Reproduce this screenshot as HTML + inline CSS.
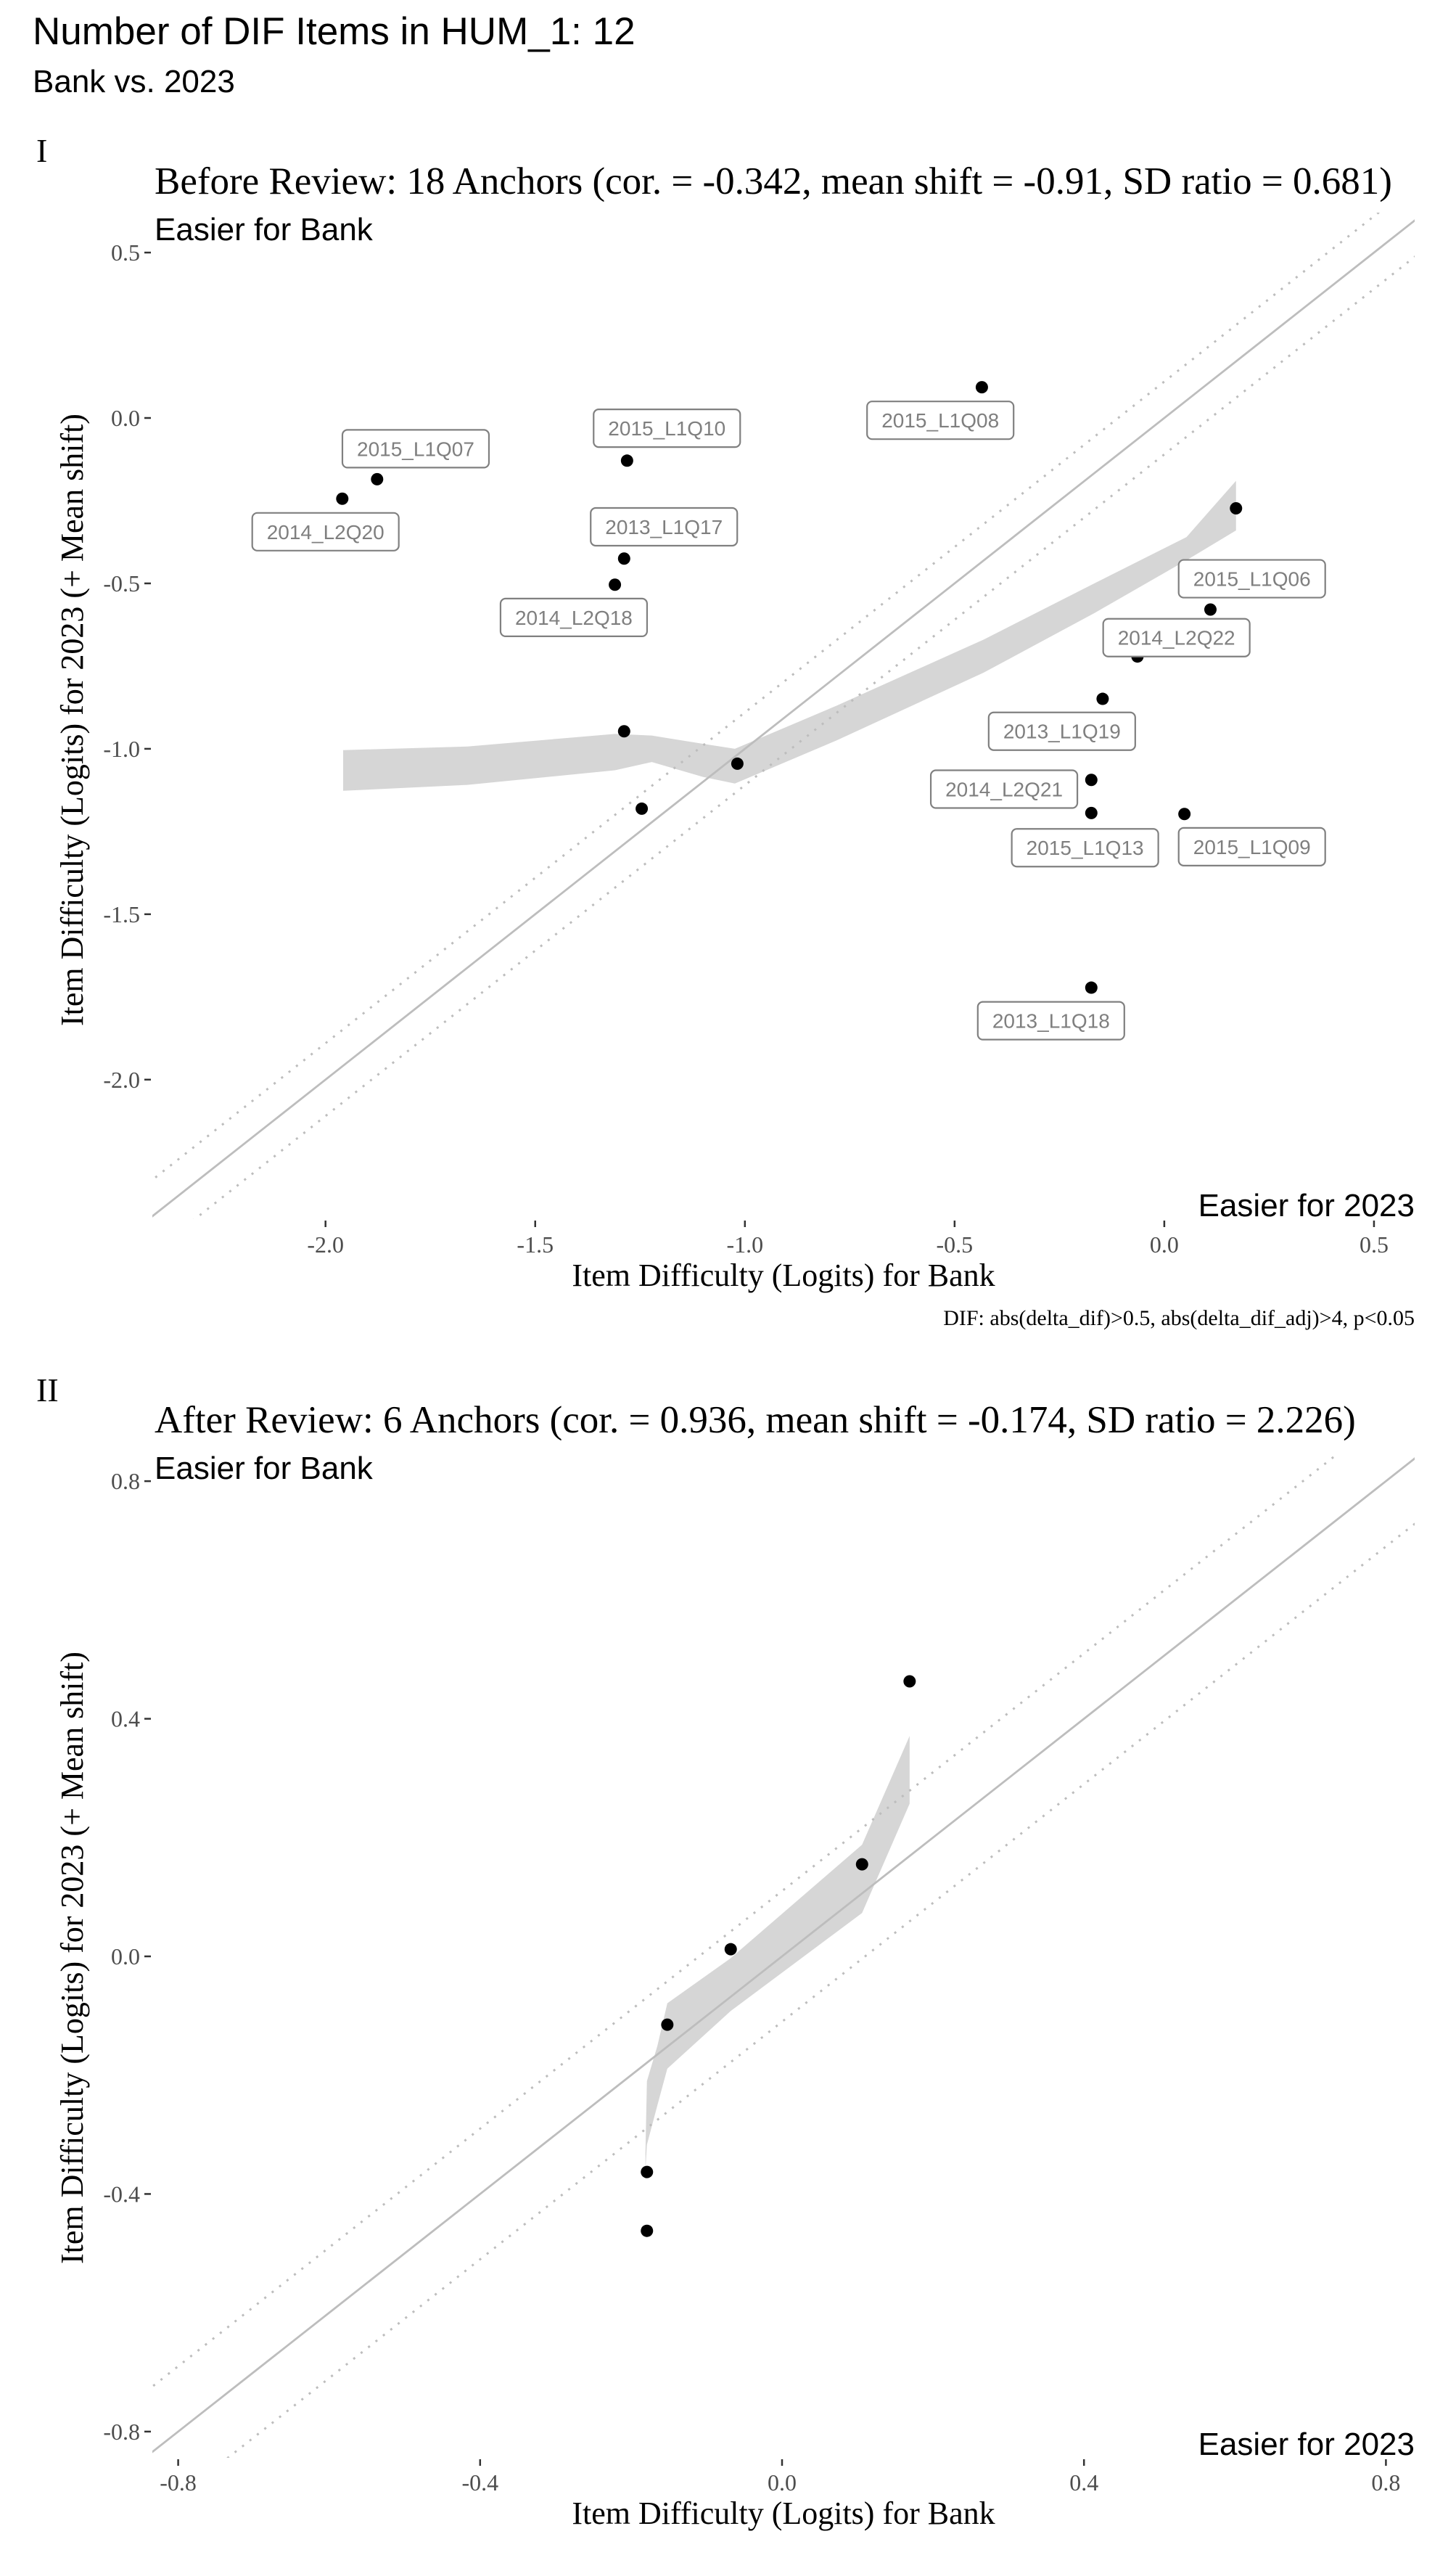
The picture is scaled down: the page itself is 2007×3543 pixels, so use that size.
<!DOCTYPE html>
<html><head><meta charset="utf-8"><style>
html,body{margin:0;padding:0;background:#fff}
svg{display:block}
.serif{font-family:"Liberation Serif",serif}
.sans{font-family:"Liberation Sans",sans-serif}
</style></head><body>
<svg id="chart" width="2007" height="3543" viewBox="0 0 2007 3543" xmlns="http://www.w3.org/2000/svg">
<text x="45" y="61" class="sans" font-size="53" fill="#000">Number of DIF Items in HUM_1: 12</text>
<text x="45" y="127" class="sans" font-size="44" fill="#000">Bank vs. 2023</text>
<g id="p1"></g>
<g id="p2"></g>
</svg>
<script>
// Panel I data
const p1Names = ["2014_L2Q20","2015_L1Q07","2015_L1Q10","2015_L1Q08","2013_L1Q17","2014_L2Q18","","2015_L1Q06","2014_L2Q22","2013_L1Q19","","","","2014_L2Q21","2015_L1Q13","2015_L1Q09","2013_L1Q18"];
const p1X = [-1.960,-1.877,-1.281,-0.435,-1.288,-1.310,0.171,0.110,-0.064,-0.147,-1.288,-1.018,-1.246,-0.174,-0.174,0.048,-0.174];
const p1Y = [-0.244,-0.185,-0.129,0.093,-0.425,-0.504,-0.273,-0.579,-0.721,-0.849,-0.947,-1.045,-1.181,-1.094,-1.194,-1.197,-1.722];
const p1LabX = [-2.0,-1.785,-1.186,-0.534,-1.193,-1.408,0,0.209,0.029,-0.244,0,0,0,-0.382,-0.189,0.209,-0.270];
const p1LabY = [-0.344,-0.093,-0.031,-0.007,-0.329,-0.603,0,-0.486,-0.664,-0.947,0,0,0,-1.122,-1.299,-1.296,-1.822];
const p1RibX = [-1.958,-1.662,-1.310,-1.222,-1.100,-1.024,-0.782,-0.431,-0.167,0.053,0.171];
const p1RibUp = [-1.004,-0.993,-0.955,-0.960,-0.985,-1.000,-0.870,-0.670,-0.500,-0.360,-0.190];
const p1RibLo = [-1.127,-1.109,-1.065,-1.040,-1.085,-1.105,-0.975,-0.770,-0.590,-0.430,-0.340];
const p1XTicks = [-2.0,-1.5,-1.0,-0.5,0.0,0.5];
const p1YTicks = [0.5,0.0,-0.5,-1.0,-1.5,-2.0];
// Panel II data
const p2X = [0.169,0.106,-0.068,-0.152,-0.179,-0.179];
const p2Y = [0.463,0.155,0.012,-0.115,-0.363,-0.462];
const p2RibX = [-0.181,-0.179,-0.165,-0.152,-0.068,0.106,0.169];
const p2RibUp = [-0.33,-0.21,-0.15,-0.079,-0.003,0.188,0.371];
const p2RibLo = [-0.36,-0.317,-0.25,-0.189,-0.092,0.073,0.257];
const p2XTicks = [-0.8,-0.4,0.0,0.4,0.8];
const p2YTicks = [0.8,0.4,0.0,-0.4,-0.8];
const bandOffset = 0.11;

const NS="http://www.w3.org/2000/svg";
function mk(tag,attrs,parent){const e=document.createElementNS(NS,tag);for(const k in attrs)e.setAttribute(k,attrs[k]);parent.appendChild(e);return e;}
function fmt(v){return v.toFixed(1);}

function panel(g,cfg){
  const sx=v=>cfg.x0+v*cfg.kx, sy=v=>cfg.y0-v*cfg.ky;
  const clipId=cfg.id+"clip";
  const defs=mk('defs',{},g);
  const cp=mk('clipPath',{id:clipId},defs);
  mk('rect',{x:cfg.left,y:cfg.top,width:cfg.right-cfg.left,height:cfg.bottom-cfg.top},cp);
  let t;
  t=mk('text',{x:50,y:cfg.romanY,class:'serif','font-size':46},g);t.textContent=cfg.roman;
  
  
  t=mk('text',{x:213,y:cfg.titleY,class:'serif','font-size':53},g);t.textContent=cfg.title;
  
  
  t=mk('text',{x:213,y:cfg.ebY,class:'sans','font-size':44},g);t.textContent="Easier for Bank";
  
  
  t=mk('text',{x:1950,y:cfg.e23Y,class:'sans','font-size':44,'text-anchor':'end'},g);t.textContent="Easier for 2023";
  
  
  cfg.yt.forEach(v=>{
    const tk=mk('line',{x1:199,x2:208,y1:sy(v),y2:sy(v),stroke:'#333','stroke-width':2.5},g);
    
    
    const tl=mk('text',{x:193,y:sy(v)+11,class:'serif','font-size':32,fill:'#4d4d4d','text-anchor':'end'},g);tl.textContent=fmt(v);
    
    
  });
  cfg.xt.forEach(v=>{
    const tl=mk('text',{x:sx(v),y:cfg.xtlY,class:'serif','font-size':32,fill:'#4d4d4d','text-anchor':'middle'},g);tl.textContent=fmt(v);
    
    
    const tk=mk('line',{x1:sx(v),x2:sx(v),y1:cfg.bottom+2,y2:cfg.bottom+11,stroke:'#333','stroke-width':2.5},g);
    
    
  });
  t=mk('text',{x:1080,y:cfg.xtitleY,class:'serif','font-size':44,'text-anchor':'middle'},g);t.textContent="Item Difficulty (Logits) for Bank";
  
  
  t=mk('text',{x:0,y:0,class:'serif','font-size':44,'text-anchor':'middle',transform:`translate(114,${cfg.ytitleY}) rotate(-90)`},g);t.textContent="Item Difficulty (Logits) for 2023 (+ Mean shift)";
  
  
  const plot=mk('g',{'clip-path':`url(#${clipId})`},g);
  let pts=[];
  cfg.rx.forEach((x,i)=>pts.push(sx(x)+','+sy(cfg.ru[i])));
  for(let i=cfg.rx.length-1;i>=0;i--)pts.push(sx(cfg.rx[i])+','+sy(cfg.rl[i]));
  const rib=mk('polygon',{points:pts.join(' '),fill:'#d6d6d6'},plot);
  
  
  const lo=cfg.dmin, hi=cfg.dmax;
  const idl=mk('line',{x1:sx(lo),y1:sy(lo),x2:sx(hi),y2:sy(hi),stroke:'#bdbdbd','stroke-width':2.8},plot);
  
  
  [bandOffset,-bandOffset].forEach(o=>{
    const d=mk('line',{x1:sx(lo),y1:sy(lo+o),x2:sx(hi),y2:sy(hi+o),stroke:'#bdbdbd','stroke-width':3,'stroke-dasharray':'3 10'},plot);
    
    
  });
  cfg.px.forEach((x,i)=>{
    const c=mk('circle',{cx:sx(x),cy:sy(cfg.py[i]),r:8.5,fill:'#000'},g);
    
    
  });
  if(cfg.names){
    cfg.names.forEach((n,i)=>{
      if(!n)return;
      const cx=sx(cfg.lx[i]), cy=sy(cfg.ly[i]);
      const lg=mk('g',{},g);
      
      
      mk('rect',{x:cx-101,y:cy-26,width:202,height:52,rx:7,fill:'#fff',stroke:'#808080','stroke-width':2.2},lg);
      const tt=mk('text',{x:cx,y:cy+10,class:'sans','font-size':28,fill:'#7f7f7f','text-anchor':'middle'},lg);tt.textContent=n;
    });
  }
}
panel(document.getElementById('p1'),{id:'p1',x0:1604.9,kx:578.1,y0:576,ky:455.9,left:210,right:1950,top:293,bottom:1680,
  roman:'I',romanY:223,title:'Before Review: 18 Anchors (cor. = -0.342, mean shift = -0.91, SD ratio = 0.681)',titleY:267,ebY:331,e23Y:1676,xtlY:1726,xtitleY:1772,ytitleY:992,
  xt:p1XTicks,yt:p1YTicks,px:p1X,py:p1Y,names:p1Names,lx:p1LabX,ly:p1LabY,rx:p1RibX,ru:p1RibUp,rl:p1RibLo,dmin:-2.6,dmax:0.8});
panel(document.getElementById('p2'),{id:'p2',x0:1078,kx:1040.5,y0:2696,ky:818.6,left:210,right:1950,top:2006,bottom:3387,
  roman:'II',romanY:1931,title:'After Review: 6 Anchors (cor. = 0.936, mean shift = -0.174, SD ratio = 2.226)',titleY:1974,ebY:2038,e23Y:3383,xtlY:3432,xtitleY:3478,ytitleY:2698,
  xt:p2XTicks,yt:p2YTicks,px:p2X,py:p2Y,names:null,rx:p2RibX,ru:p2RibUp,rl:p2RibLo,dmin:-1.0,dmax:1.0});
const cap=document.createElementNS(NS,'text');
cap.setAttribute('x','1950');cap.setAttribute('y','1826');cap.setAttribute('class','serif');cap.setAttribute('font-size','30');cap.setAttribute('text-anchor','end');
cap.textContent='DIF: abs(delta_dif)>0.5, abs(delta_dif_adj)>4, p<0.05';


document.getElementById('p1').appendChild(cap);
</script>
</body></html>
